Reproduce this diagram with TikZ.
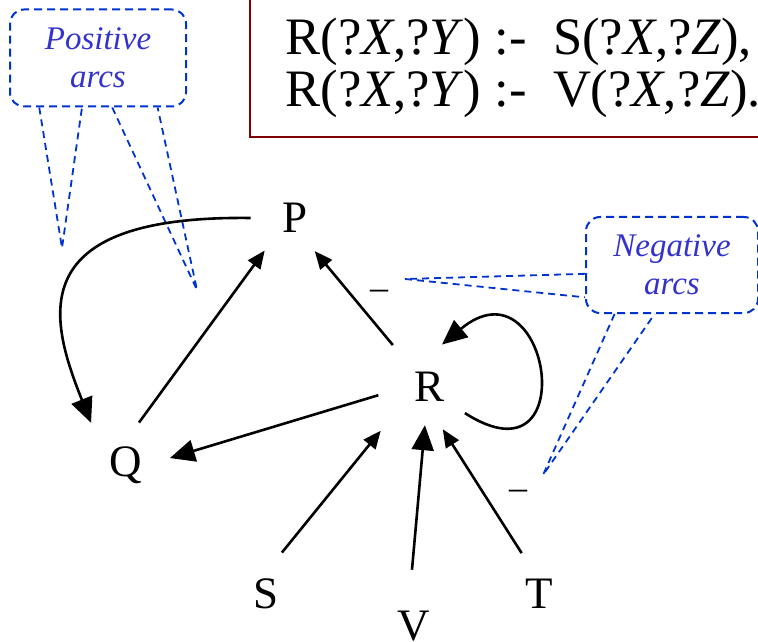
\documentclass[tikz,border=0pt]{standalone}
\usepackage{fontspec}
\setmainfont{Liberation Serif}
\usetikzlibrary{arrows.meta,calc}
\definecolor{ruleRed}{RGB}{128,0,0}
\definecolor{noteBlue}{RGB}{0,51,204}
\definecolor{noteText}{RGB}{51,51,204}

\begin{document}
\begin{tikzpicture}[
    x=0.5pt, y=-0.5pt,
    pred/.style  ={circle, inner sep=0pt, minimum size=44pt,
                   font=\fontsize{22.5}{27}\selectfont},
    rule/.style  ={anchor=base west, inner sep=0pt,
                   font=\fontsize{26.3}{30}\selectfont},
    note/.style  ={rectangle, rounded corners=7pt, draw=noteBlue,
                   line width=1pt, dash pattern=on 4pt off 2.5pt,
                   align=center, text=noteText,
                   font=\fontsize{16.5}{19}\selectfont\itshape},
    ptr/.style   ={draw=noteBlue, line width=0.9pt,
                   dash pattern=on 3.5pt off 2.5pt},
    arr/.style   ={-{Triangle[length=9pt,width=7.5pt]}, line width=1.3pt},
    bigarr/.style={-{Triangle[length=12.5pt,width=11pt]}, line width=1.3pt},
    neg/.style   ={font=\fontsize{18}{20}\selectfont, inner sep=0pt}
]
\useasboundingbox (0,0) rectangle (758,641);
\clip (0,0) rectangle (758,641);

\draw[ruleRed, line width=1pt] (250,-10) rectangle (780,137);
\node[rule] (rule1) at (285,55)  {R(?\textit{X},?\textit{Y}) :-\ \ S(?\textit{X},?\textit{Z}),};
\node[rule] (rule2) at (285,107) {R(?\textit{X},?\textit{Y}) :-\ \ V(?\textit{X},?\textit{Z}).};

\node[pred] (p) at (295,218) {P};
\node[pred] (q) at (126,465) {Q};
\node[pred] (r) at (429,387) {R};
\node[pred] (s) at (266,594) {S};
\node[pred] (v) at (414,626) {V};
\node[pred] (t) at (539,594) {T};

\node[note, minimum width=88pt, minimum height=48.5pt] (pos) at (98,58)  {Positive\\arcs};
\node[note, minimum width=86pt, minimum height=48pt]   (nega) at (672,265) {Negative\\arcs};

\coordinate (posTipA) at (62,248);
\coordinate (posTipB) at (197,290);
\coordinate (negTipA) at (405,279);
\coordinate (negTipB) at (543,475);

\draw[ptr] ($(pos.south west)!0.17!(pos.south east)$) -- (posTipA)
           -- ($(pos.south west)!0.41!(pos.south east)$);
\draw[ptr] ($(pos.south west)!0.58!(pos.south east)$) -- (posTipB)
           -- ($(pos.south west)!0.835!(pos.south east)$);
\draw[ptr] ($(nega.north west)!0.59!(nega.south west)$) -- (negTipA)
           -- ($(nega.north west)!0.83!(nega.south west)$);
\draw[ptr] ($(nega.south west)!0.17!(nega.south east)$) -- (negTipB)
           -- ($(nega.south west)!0.40!(nega.south east)$);

\draw[bigarr, shorten >=5.5pt] (p.180) .. controls (20,215) and (50,320) .. (q.134);
\draw[arr] (q.73) -- (p.227);
\draw[arr, shorten <=5.5pt, shorten >=-3pt] (r.131) --
    node[neg, midway, shift={(20,-10)}] {–} (p.302);
\draw[bigarr, shorten <=3.5pt] (r.188) -- (q.9);
\draw[bigarr] (r.-36) .. controls (585,490) and (550,255) .. (r.73);
\draw[arr, shorten >=10.5pt] (s.69) -- (r.218);
\draw[bigarr, shorten <=6pt, shorten >=-3pt] (v.94) -- (r.264);
\draw[arr] (t.113) -- node[neg, midway, shift={(36,4)}] {–} (r.288);
\end{tikzpicture}
\end{document}
